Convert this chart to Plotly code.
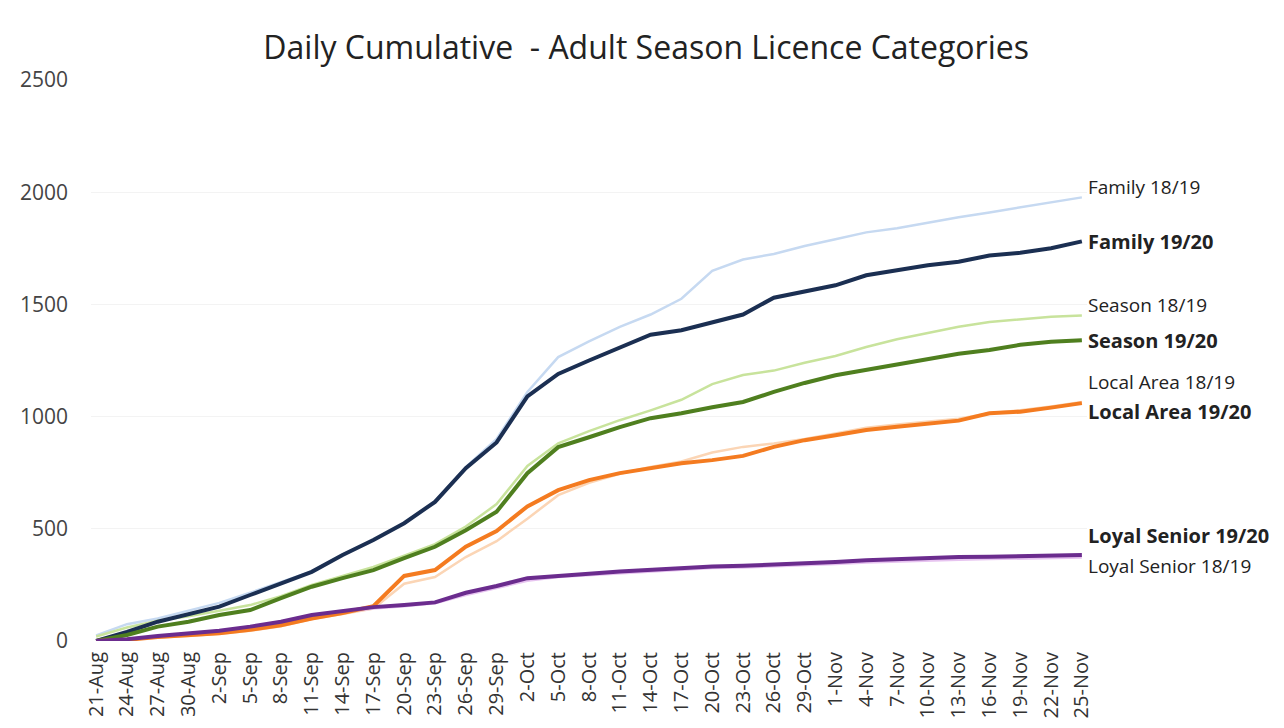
import plotly.graph_objects as go
import pandas as pd

# dates every 3 days from 21-Aug to 25-Nov
dates = pd.date_range("2019-08-21", "2019-11-25", freq="3D")

family_1819 = [25, 75, 100, 135, 170, 215, 262, 310, 385, 450, 525, 622, 775, 900, 1110, 1265, 1335, 1400, 1455, 1525, 1650, 1700, 1725, 1760, 1790, 1821, 1839, 1865, 1888, 1910, 1932, 1954, 1977]
family_1920 = [0, 40, 86, 120, 153, 205, 258, 308, 383, 450, 525, 620, 770, 885, 1090, 1190, 1250, 1309, 1365, 1385, 1420, 1455, 1530, 1558, 1585, 1630, 1652, 1674, 1690, 1718, 1730, 1750, 1781]
season_1819 = [20, 60, 90, 110, 135, 160, 200, 250, 290, 330, 380, 432, 510, 610, 780, 881, 935, 984, 1028, 1075, 1145, 1185, 1205, 1240, 1270, 1310, 1345, 1371, 1400, 1422, 1435, 1445, 1451]
season_1920 = [0, 27, 64, 86, 116, 138, 191, 242, 280, 316, 369, 420, 494, 576, 748, 864, 908, 953, 993, 1015, 1042, 1065, 1110, 1150, 1184, 1208, 1235, 1260, 1280, 1297, 1320, 1333, 1340]
local_1819 = [0, 5, 16, 22, 32, 46, 66, 98, 120, 145, 255, 285, 374, 445, 545, 650, 705, 745, 775, 800, 840, 865, 880, 900, 925, 950, 965, 978, 990, 1015, 1028, 1045, 1065]
local_1920 = [0, 5, 18, 25, 35, 50, 70, 100, 125, 155, 290, 316, 420, 490, 600, 672, 717, 748, 770, 792, 806, 825, 865, 895, 917, 940, 955, 968, 982, 1015, 1022, 1040, 1060]
loyal_1819 = [0, 8, 20, 32, 44, 60, 82, 110, 128, 145, 155, 168, 205, 235, 268, 285, 293, 303, 312, 320, 325, 328, 332, 338, 343, 350, 355, 358, 362, 365, 367, 370, 372]
loyal_1920 = [0, 8, 22, 35, 46, 64, 86, 116, 134, 151, 160, 172, 215, 245, 280, 292, 300, 310, 318, 328, 332, 335, 340, 345, 352, 360, 366, 370, 374, 376, 378, 380, 383]

names = ["Family 18/19", "Family 19/20", "Season 18/19", "Season 19/20",
         "Local Area 18/19", "Local Area 19/20", "Loyal Senior 18/19", "Loyal Senior 19/20"]
series = [family_1819, family_1920, season_1819, season_1920,
          local_1819, local_1920, loyal_1819, loyal_1920]
colors = ["#C6D9F1", "#1B2F52", "#C8E39C", "#4F7F1F",
          "#FBD5B5", "#F47B20", "#E7C4F0", "#6B2C8E"]
# where the end labels sit (value units)
label_y = [2021, 1781, 1496, 1340, 1153, 1024, 334, 472]

fig = go.Figure()

# thin 18/19 lines first, thick 19/20 on top
for i in [0, 2, 4, 6, 1, 3, 5, 7]:
    bold = names[i].endswith("19/20")
    fig.add_trace(go.Scatter(x=dates, y=series[i], mode="lines", name=names[i],
                             line=dict(color=colors[i], width=4 if bold else 2.5),
                             showlegend=False))
    fig.add_annotation(x=dates[-1], y=label_y[i], xref="x", yref="y",
                       text="<b>%s</b>" % names[i] if bold else names[i],
                       showarrow=False, xanchor="left", yanchor="middle", xshift=4,
                       font=dict(size=20 if bold else 19, color="#222"))

# page has an 8px body margin, so margins are shifted by that much
fig.update_layout(
    width=1284, height=728,
    margin=dict(l=75, r=205, t=72, b=95),
    paper_bgcolor="white", plot_bgcolor="white",
    font=dict(family="Open Sans, sans-serif", color="#333"),
    title=dict(text="Daily Cumulative  - Adult Season Licence Categories",
               x=0.497, xanchor="center", y=0.945, yanchor="middle",
               font=dict(size=32, color="#222")),
)

fig.update_xaxes(type="date", range=["2019-08-20 12:00", "2019-11-25 12:00"],
                 tick0="2019-08-21", dtick=3 * 86400000, tickformat="%-d-%b",
                 tickangle=-90, tickfont=dict(size=20, color="#333"),
                 ticklabelstandoff=6,
                 showgrid=False, showline=False, zeroline=False, ticks="")
fig.update_yaxes(range=[0, 2500], dtick=500, showgrid=True, gridcolor="#f3f3f3",
                 zeroline=False, showline=False, ticks="", ticklabelstandoff=22,
                 tickfont=dict(size=21, color="#444"))

fig.write_html("out.html")
